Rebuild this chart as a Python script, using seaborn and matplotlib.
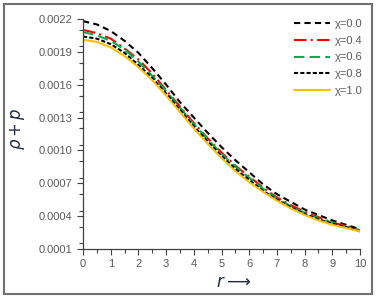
import pandas as pd
import matplotlib
matplotlib.use("Agg")
import matplotlib.pyplot as plt
import seaborn as sns
from matplotlib.patches import Rectangle
from matplotlib.ticker import MultipleLocator

# radial coordinate
r = [0, 0.5, 1, 1.5, 2, 2.5, 3, 3.5, 4, 4.5, 5, 5.5, 6, 6.5, 7, 7.5, 8, 8.5, 9, 9.5, 10]

# rho + p for each chi
chi_00 = [0.00218, 0.00215, 0.00209, 0.00200, 0.00189, 0.00175, 0.00160, 0.00144, 0.00130, 0.00116, 0.00103,
          0.00091, 0.00080, 0.00069, 0.00060, 0.00053, 0.00046, 0.00041, 0.00036, 0.00032, 0.00028]
chi_04 = [0.00210, 0.00207, 0.00202, 0.00193, 0.00183, 0.00170, 0.00155, 0.00140, 0.00125, 0.00111, 0.00098,
          0.00086, 0.00076, 0.00066, 0.00057, 0.00050, 0.00044, 0.00039, 0.00034, 0.00031, 0.00027]
chi_06 = [0.00208, 0.00205, 0.00200, 0.00192, 0.00181, 0.00168, 0.00154, 0.00139, 0.00124, 0.00110, 0.00097,
          0.00085, 0.00075, 0.00065, 0.00056, 0.00049, 0.00043, 0.00038, 0.00034, 0.00030, 0.00027]
chi_08 = [0.00204, 0.00202, 0.00197, 0.00189, 0.00178, 0.00166, 0.00152, 0.00137, 0.00122, 0.00108, 0.00095,
          0.00083, 0.00073, 0.00063, 0.00055, 0.00048, 0.00042, 0.00037, 0.00033, 0.00030, 0.00026]
chi_10 = [0.00201, 0.00199, 0.00194, 0.00186, 0.00176, 0.00164, 0.00150, 0.00135, 0.00120, 0.00106, 0.00093,
          0.00081, 0.00071, 0.00062, 0.00054, 0.00047, 0.00041, 0.00036, 0.00032, 0.00029, 0.00026]

labels = ["χ=0.0", "χ=0.4", "χ=0.6", "χ=0.8", "χ=1.0"]
series = [chi_00, chi_04, chi_06, chi_08, chi_10]
y_ticks = [0.0001, 0.0004, 0.0007, 0.0010, 0.0013, 0.0016, 0.0019, 0.0022]

colors = ["black", "#ff0000", "#00b050", "black", "#ffc000"]
styles = [(0, (3.0, 2.0)), (0, (6, 2, 1, 2)), (0, (5, 2.5)), (0, (2, 1)), "-"]

sns.set_style("white")
plt.rcParams["font.family"] = ["Liberation Sans", "DejaVu Sans"]

fig = plt.figure(figsize=(3.81, 3.01), dpi=100)
ax = fig.add_axes([0.218, 0.173, 0.727, 0.764])

for lab, vals, c, ls in zip(labels, series, colors, styles):
    df = pd.DataFrame({"r": r, "val": vals})
    sns.lineplot(data=df, x="r", y="val", ax=ax, color=c, linestyle=ls,
                 linewidth=1.5, label=lab)

ax.set_xlim(0, 10)
ax.set_ylim(0.0001, 0.0022)
ax.set_xticks(range(0, 11))
ax.xaxis.set_minor_locator(MultipleLocator(0.5))
ax.set_yticks(y_ticks)
ax.set_yticklabels([f"{v:.4f}" for v in y_ticks])
ax.yaxis.set_minor_locator(MultipleLocator(0.00015))
ax.tick_params(which="both", direction="out", color="#404040", labelcolor="#595959",
               labelsize=8, left=True, bottom=True)
ax.tick_params(which="major", length=4, width=0.8)
ax.tick_params(which="minor", length=3, width=0.8)
for s in ["top", "right"]:
    ax.spines[s].set_visible(False)
for s in ["left", "bottom"]:
    ax.spines[s].set_color("#404040")
    ax.spines[s].set_linewidth(0.9)

ax.set_xlabel(r"$r\longrightarrow$", fontsize=12, color="#1f2a44", va="center")
ax.xaxis.set_label_coords(0.545, -0.148)
ax.set_ylabel(r"$\rho+p$", fontsize=12, color="#1f2a44", va="center")
ax.yaxis.set_label_coords(-0.235, 0.522)

leg = ax.legend(loc="upper right", bbox_to_anchor=(1.045, 1.045), frameon=False, fontsize=8,
                handlelength=3.3, labelspacing=0.62, handletextpad=0.4, labelcolor="#595959")

fig.patches.append(Rectangle((4 / 381, 1 - 294 / 301), 368 / 381, 290 / 301,
                             transform=fig.transFigure, fill=False,
                             edgecolor="#707070", linewidth=1.5))

fig.savefig("out.png", dpi=100)
